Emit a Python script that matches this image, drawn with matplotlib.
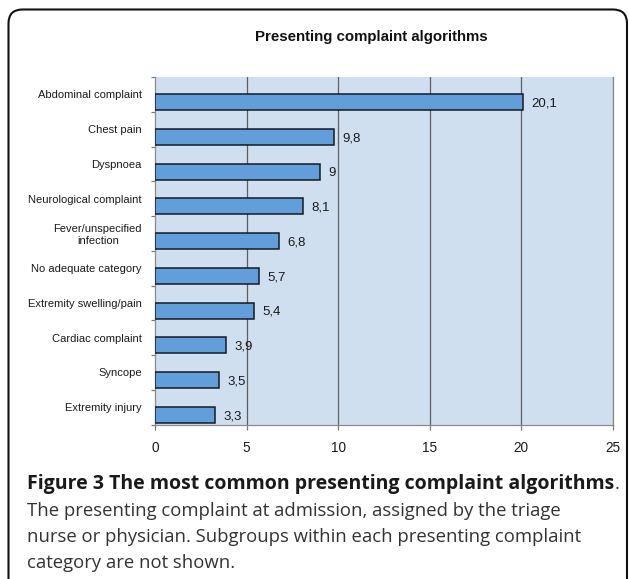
import matplotlib
matplotlib.use("Agg")
import matplotlib.pyplot as plt
from matplotlib.patches import FancyBboxPatch
from matplotlib.transforms import IdentityTransform

categories = ["Abdominal complaint", "Chest pain", "Dyspnoea", "Neurological complaint",
              "Fever/unspecified\ninfection", "No adequate category", "Extremity swelling/pain",
              "Cardiac complaint", "Syncope", "Extremity injury"]
values = [20.1, 9.8, 9, 8.1, 6.8, 5.7, 5.4, 3.9, 3.5, 3.3]
value_labels = ["20,1", "9,8", "9", "8,1", "6,8", "5,7", "5,4", "3,9", "3,5", "3,3"]
xticks = [0, 5, 10, 15, 20, 25]

W, H = 629, 579
fig = plt.figure(figsize=(W / 100, H / 100), dpi=100)
fig.patch.set_facecolor("white")

# rounded border
border = FancyBboxPatch((8.5, -30), 618.5, 599.5, boxstyle="round,pad=0,rounding_size=14",
                        transform=IdentityTransform(), fill=False, edgecolor="#111111",
                        linewidth=1.5, clip_on=False)
fig.patches.append(border)

ax = fig.add_axes([155 / W, 154.5 / H, 457.5 / W, 347.5 / H])
ax.set_facecolor("#D0DFF0")

pos = list(range(len(categories)))
ax.barh([p + 0.22 for p in pos], values, height=0.46, color="#629FDA",
        edgecolor="#151a22", linewidth=1.1, zorder=3)

for p, v, lab in zip(pos, values, value_labels):
    ax.annotate(lab, (v, p + 0.26), xytext=(6, 0), textcoords="offset points",
                ha="left", va="center", fontsize=9.5, family="Liberation Sans",
                color="#1a1a1a")

ax.set_xlim(0, 25)
ax.set_ylim(9.5, -0.5)
ax.set_xticks(xticks)
ax.set_xticklabels([str(x) for x in xticks], fontsize=9.8, family="Liberation Sans",
                   color="#1a1a1a")
ax.set_yticks(pos)
ax.set_yticklabels(categories, fontsize=8, family="Liberation Sans", color="#1a1a1a",
                   multialignment="center")
ax.set_yticks([p - 0.5 for p in pos] + [9.5], minor=True)
ax.tick_params(axis="y", which="major", length=0, pad=9.4)
ax.tick_params(axis="y", which="minor", length=2.8, color="#7a7a7a", width=0.9, direction="out")
ax.tick_params(axis="x", which="major", length=3.6, color="#7a7a7a", width=0.9,
               direction="out", pad=8.4)

for x in xticks[1:]:
    ax.axvline(x, color="#5e5e5e", linewidth=0.9, zorder=1)

for s in ["top"]:
    ax.spines[s].set_visible(False)
for s in ["left", "bottom", "right"]:
    ax.spines[s].set_color("#8a8a8a")
    ax.spines[s].set_linewidth(0.9)

fig.text(371 / W, (579 - 36.5) / H, "Presenting complaint algorithms", ha="center",
         va="center", fontsize=10.8, fontweight="bold", family="Liberation Sans",
         color="#111111")

# caption
cx = 27 / W
t1 = fig.text(cx, (579 - 489) / H, "Figure 3 The most common presenting complaint algorithms",
              ha="left", va="baseline", fontsize=14, fontweight="bold", family="Open Sans",
              color="#1a1a1a")
fig.canvas.draw()
bb = t1.get_window_extent(renderer=fig.canvas.get_renderer())
fig.text(bb.x1 / W, (579 - 489) / H, ".", ha="left", va="baseline", fontsize=13.3,
         family="Open Sans", color="#333333")
lines = ["The presenting complaint at admission, assigned by the triage",
         "nurse or physician. Subgroups within each presenting complaint",
         "category are not shown."]
for i, ln in enumerate(lines):
    fig.text(cx, (579 - (515.5 + 26.3 * i)) / H, ln, ha="left", va="baseline",
             fontsize=13.3, family="Open Sans", color="#333333")

fig.savefig("out.png", dpi=100)
